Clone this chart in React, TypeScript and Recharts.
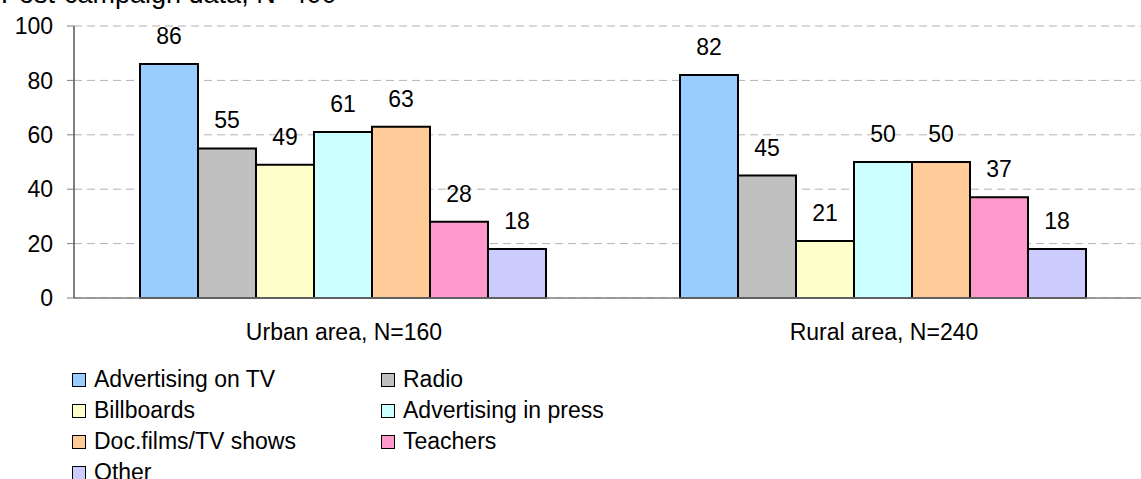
import React from "react";
import {
  BarChart,
  Bar,
  XAxis,
  YAxis,
  CartesianGrid,
  LabelList,
  Legend,
} from "recharts";

const categories = ["Urban area, N=160", "Rural area, N=240"];
const seriesNames = [
  "Advertising on TV",
  "Radio",
  "Billboards",
  "Advertising in press",
  "Doc.films/TV shows",
  "Teachers",
  "Other",
];
const seriesColors = [
  "#99CCFF",
  "#C0C0C0",
  "#FFFFCC",
  "#CCFFFF",
  "#FFCC99",
  "#FF99CC",
  "#CCCCFF",
];
const tvValues = [86, 82];
const radioValues = [55, 45];
const billboardValues = [49, 21];
const pressValues = [61, 50];
const docValues = [63, 50];
const teacherValues = [28, 37];
const otherValues = [18, 18];
const yTicks = [0, 20, 40, 60, 80, 100];
const title = "Post-campaign data, N=400";

const seriesValues = [
  tvValues,
  radioValues,
  billboardValues,
  pressValues,
  docValues,
  teacherValues,
  otherValues,
];

const data = categories.map((cat, i) => {
  const row: Record<string, string | number> = { cat };
  seriesValues.forEach((vals, s) => {
    row[`s${s}`] = vals[i];
  });
  return row;
});

const FONT = "'Liberation Sans', Arial, sans-serif";
const FS = 23;

const LegendContent = () => (
  <div
    style={{
      display: "grid",
      gridTemplateColumns: "309px 300px",
      rowGap: 0,
      fontFamily: FONT,
      fontSize: FS,
      color: "#000",
    }}
  >
    {seriesNames.map((name, i) => (
      <div
        key={name}
        style={{ display: "flex", alignItems: "center", height: 31, whiteSpace: "nowrap" }}
      >
        <span
          style={{
            display: "inline-block",
            width: 12,
            height: 12,
            background: seriesColors[i],
            border: "1.5px solid #000",
            marginRight: 8,
          }}
        />
        <span>{name}</span>
      </div>
    ))}
  </div>
);

export default function App() {
  return (
    <div
      style={{
        position: "absolute",
        left: 0,
        top: 0,
        width: 1141,
        height: 479,
        overflow: "hidden",
        background: "#fff",
        fontFamily: FONT,
      }}
    >
      <div
        style={{
          position: "absolute",
          left: 1,
          top: -19,
          fontSize: 27,
          lineHeight: 1,
          whiteSpace: "nowrap",
          color: "#000",
        }}
      >
        {title}
      </div>
      <BarChart
        width={1170}
        height={479}
        data={data}
        margin={{ top: 26, right: 16, left: 14, bottom: 0 }}
        barCategoryGap={66}
        barGap={0}
        style={{ fontFamily: FONT }}
      >
        <CartesianGrid
          vertical={false}
          stroke="#b3b3b3"
          strokeDasharray="8 5"
        />
        <XAxis
          xAxisId="edge"
          type="number"
          domain={[0, 2]}
          ticks={[0, 1, 2]}
          allowDataOverflow
          tick={false}
          tickSize={8}
          axisLine={false}
          tickLine={{ stroke: "#808080" }}
          height={0}
        />
        <XAxis
          dataKey="cat"
          tickLine={false}
          tickSize={0}
          tickMargin={26}
          axisLine={{ stroke: "#808080", strokeWidth: 1.5 }}
          tick={{ fill: "#000", fontSize: FS }}
          height={181}
          interval={0}
        />
        <YAxis
          domain={[0, 100]}
          ticks={yTicks}
          width={60}
          tickSize={7}
          tickMargin={14}
          axisLine={{ stroke: "#000" }}
          tickLine={{ stroke: "#808080" }}
          tick={{ fill: "#000", fontSize: FS }}
          interval={0}
        />
        {seriesNames.map((name, s) => (
          <Bar
            key={name}
            dataKey={`s${s}`}
            name={name}
            fill={seriesColors[s]}
            stroke="#000"
            strokeWidth={2}
            isAnimationActive={false}
          >
            <LabelList
              dataKey={`s${s}`}
              position="top"
              offset={20}
              fill="#000"
              fontSize={FS}
            />
          </Bar>
        ))}
        <Legend
          layout="vertical"
          align="center"
          verticalAlign="middle"
          content={() => <LegendContent />}
          wrapperStyle={{ position: "absolute", left: 72, top: 364, width: 700 }}
        />
      </BarChart>
    </div>
  );
}
